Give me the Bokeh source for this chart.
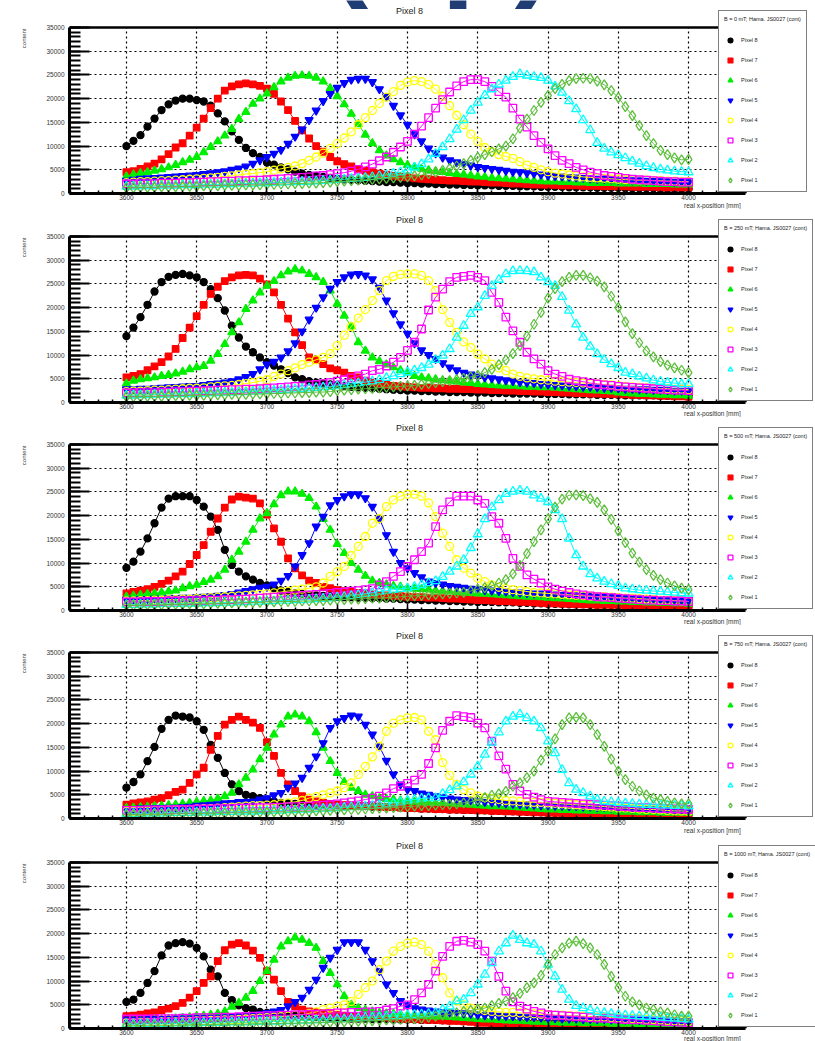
import math
from bokeh.plotting import figure
from bokeh.models import Range1d, Legend, LegendItem, Label, Title, SingleIntervalTicker
from bokeh.layouts import column
from bokeh.embed import file_html
from bokeh.resources import INLINE

# x positions of the scan points [mm]
X_MM = list(range(3600, 4001, 5))
PIXELS = ["Pixel 8", "Pixel 7", "Pixel 6", "Pixel 5", "Pixel 4", "Pixel 3", "Pixel 2", "Pixel 1"]
FIELDS = ["0", "250", "500", "750", "1000"]
UNIT = 100  # values below are given in units of 100 counts

# ---------------- B = 0 mT ----------------
B0_P8 = [100,111,123,141,158,176,188,196,200,200,197,194,185,169,152,131,113,96,85,77,
         65,61,55,51,46,42,39,37,35,33,31,30,29,28,27,26,25,24,24,23,
         22,22,21,21,20,20,19,19,18,18,17,17,17,16,16,16,15,15,15,14,
         14,14,14,13,13,13,13,12,12,12,12,11,11,11,11,11,10,10,10,10,10]
B0_P7 = [45,47,52,57,63,72,83,97,106,122,139,158,180,200,217,226,230,232,230,227,
         221,210,194,176,153,133,116,100,88,77,68,62,57,52,48,45,42,40,37,35,
         34,32,31,30,29,28,27,27,26,25,25,24,23,23,22,21,21,20,19,19,
         18,18,17,17,17,16,16,16,15,15,15,15,14,14,14,14,13,13,13,13,13]
B0_P6 = [36,40,43,45,48,51,55,60,66,71,77,87,98,110,122,136,157,172,189,200,
         211,224,236,244,248,249,248,244,236,222,205,188,168,146,124,106,91,80,72,66,
         60,56,52,49,47,45,43,41,40,38,36,35,33,32,31,30,29,28,27,26,
         25,25,24,24,23,23,22,22,22,22,21,21,21,21,20,20,20,20,19,19,19]
B0_P5 = [27,29,31,32,33,34,35,36,37,38,39,41,43,45,47,50,53,57,63,70,
         77,84,92,105,120,135,155,175,195,210,223,233,240,242,242,235,220,205,185,165,
         145,125,110,95,85,76,70,66,62,59,56,54,52,50,48,46,45,43,42,40,
         38,37,36,35,34,33,32,31,31,30,29,29,28,28,27,27,26,26,25,25,24]
B0_P4 = [23,24,25,25,26,27,27,28,29,30,31,32,33,34,36,37,39,41,42,44,
         46,49,52,55,58,63,70,77,85,95,105,117,130,145,160,175,190,203,215,228,
         235,238,236,230,220,205,185,165,145,125,110,97,88,82,78,74,67,60,55,50,
         46,43,41,39,37,35,34,33,32,31,30,29,29,28,28,27,27,26,26,25,25]
B0_P3 = [20,20,21,21,21,22,22,22,23,23,24,24,25,25,26,26,27,27,28,28,
         29,30,31,32,33,34,35,37,38,40,42,44,47,51,56,62,69,77,87,98,
         110,125,142,160,180,198,214,227,236,240,240,236,226,215,203,180,157,140,122,108,
         94,80,70,63,55,50,45,42,38,36,34,32,30,29,28,27,26,25,25,24,24]
B0_P2 = [15,15,16,16,16,17,17,17,18,18,18,19,19,19,20,20,21,21,21,22,
         22,23,23,24,24,25,25,26,27,28,29,30,31,32,33,35,37,39,42,45,
         49,55,62,72,84,98,115,135,155,175,192,207,220,230,238,246,252,249,246,244,
         238,226,213,195,178,155,134,107,95,87,81,75,68,63,58,54,51,49,47,46,45]
B0_P1 = [12,12,13,13,13,14,14,14,15,15,15,16,16,16,17,17,17,18,18,18,
         19,19,20,20,21,21,22,22,23,24,25,26,27,28,29,30,31,32,33,34,
         35,37,39,42,45,49,53,58,63,70,76,82,88,94,100,115,138,157,175,192,
         207,221,230,238,242,243,242,237,229,217,202,183,164,143,122,105,91,82,75,71,72]

# ---------------- B = 250 mT ----------------
B250_P8 = [140,158,180,206,234,254,265,269,271,268,264,254,239,220,194,162,137,118,106,95,
           85,78,70,62,53,49,45,42,40,38,37,35,33,32,31,30,29,28,27,26,
           25,25,24,24,23,23,22,22,22,21,21,21,20,20,20,19,19,19,19,18,
           18,18,18,17,17,17,17,16,16,16,16,15,15,15,15,15,14,14,14,14,14]
B250_P7 = [53,56,60,68,76,85,97,113,136,158,182,206,229,244,256,264,268,269,268,261,
           249,232,206,177,148,121,95,90,81,72,68,63,56,53,46,42,39,37,35,34,
           33,32,31,31,30,30,29,29,28,28,27,27,26,26,25,25,24,24,23,23,
           22,22,21,21,20,20,19,19,18,18,17,17,16,16,15,15,14,14,13,13,12]
B250_P6 = [40,46,49,51,53,56,58,61,65,70,74,77,88,102,123,148,169,197,215,232,
           246,256,268,276,281,278,271,264,254,236,208,183,160,127,109,95,87,80,74,68,
           63,56,53,51,49,47,46,44,42,41,39,38,37,36,35,35,34,33,33,32,
           32,31,30,29,28,27,26,25,24,23,21,20,19,18,18,17,16,16,15,15,14]
B250_P5 = [28,28,29,29,30,31,32,33,34,35,35,37,39,40,42,45,49,54,60,70,
           80,86,95,108,125,150,175,200,222,240,254,264,270,271,268,260,242,215,188,165,
           145,125,110,100,92,83,74,68,63,59,55,53,51,49,47,45,43,42,41,39,
           38,37,36,35,34,33,33,32,31,31,30,29,29,28,28,27,27,26,25,25,24]
B250_P4 = [23,24,24,25,26,26,27,28,29,30,30,31,33,34,35,36,38,40,42,45,
           48,55,60,67,73,80,85,90,95,103,120,142,160,178,196,215,236,257,266,270,
           271,271,268,257,236,196,169,148,128,116,102,92,81,73,67,60,55,52,50,48,
           47,45,44,43,42,41,40,39,38,37,35,34,33,32,31,30,29,29,28,28,27]
B250_P3 = [20,20,21,21,21,22,22,23,23,24,24,25,25,26,26,27,27,28,28,29,
           30,31,32,33,34,35,37,38,40,42,45,48,52,56,60,67,70,77,85,95,
           110,127,155,195,222,239,255,264,266,268,264,257,232,211,180,151,127,106,92,81,
           67,60,55,49,46,44,41,39,37,36,34,33,32,31,30,29,28,27,26,26,25]
B250_P2 = [15,15,16,16,17,17,17,18,18,18,19,19,20,20,21,21,22,22,23,24,
           25,25,26,27,28,29,30,31,32,33,35,37,39,41,43,45,48,52,56,60,
           64,68,73,80,90,99,113,137,162,187,201,225,246,259,271,277,278,277,275,264,
           254,246,223,194,165,137,118,102,90,81,73,63,60,55,51,47,44,42,41,39,39]
B250_P1 = [12,12,12,13,13,13,14,14,14,15,15,15,16,16,16,17,17,17,18,18,
           18,19,19,20,20,21,21,22,22,23,25,26,27,28,29,30,31,32,33,34,
           35,36,38,40,42,44,46,48,51,54,57,63,70,80,90,103,120,140,165,190,
           220,240,255,264,268,268,263,256,244,224,200,170,145,126,109,96,86,79,73,68,63]

# ---------------- B = 500 mT ----------------
B500_P8 = [90,103,124,152,184,217,236,241,241,241,233,219,198,170,128,96,82,72,65,58,
           53,47,42,39,36,35,33,32,31,30,29,28,28,27,27,26,26,25,25,24,
           23,23,22,22,21,21,20,20,19,19,18,18,18,17,17,17,16,16,15,15,
           14,14,14,13,13,13,12,12,12,12,11,11,11,11,10,10,10,10,9,9,9]
B500_P7 = [36,39,42,45,50,56,63,72,82,98,117,138,166,194,217,234,240,238,236,226,
           202,173,145,110,89,74,63,58,50,47,43,41,39,37,35,34,33,32,31,30,
           29,28,28,27,27,26,25,25,24,23,22,22,21,20,20,19,18,18,17,16,
           15,15,14,14,13,13,13,12,12,12,12,11,11,10,10,10,9,9,9,8,8]
B500_P6 = [29,31,33,35,36,38,40,42,47,51,54,60,65,72,86,107,124,145,170,194,
           205,224,243,251,251,246,237,219,193,170,140,121,100,86,73,63,58,55,52,50,
           47,46,45,44,42,41,40,39,38,37,36,35,34,33,32,31,30,29,29,28,
           27,26,25,24,23,22,21,21,20,20,19,19,18,18,17,17,16,16,15,15,14]
B500_P5 = [23,23,24,24,25,25,26,26,27,27,28,29,30,31,33,35,38,41,45,48,
           50,55,63,73,93,117,142,177,198,222,233,241,245,245,237,219,194,159,124,100,
           89,79,70,61,58,55,52,50,48,46,45,43,42,41,40,39,38,37,36,36,
           35,34,33,33,32,32,31,31,30,30,28,27,27,26,26,25,24,24,23,23,22]
B500_P4 = [20,20,21,21,22,22,23,23,24,24,25,26,27,28,29,30,31,32,33,34,
           35,37,39,41,43,45,47,50,58,72,82,93,116,135,156,184,194,219,233,241,
           245,245,241,227,198,163,135,107,89,79,68,61,54,49,46,44,42,40,38,37,
           36,35,34,33,32,31,30,29,29,28,27,26,26,25,24,23,22,22,21,20,19]
B500_P3 = [18,18,18,19,19,19,20,20,20,21,21,21,22,22,23,23,24,24,25,26,
           27,28,29,30,31,32,33,34,35,36,38,39,41,42,44,46,54,61,72,82,
           93,107,124,142,177,212,229,241,241,241,233,226,198,184,152,110,93,75,66,58,
           50,45,41,38,35,33,31,29,28,27,26,25,24,23,22,22,21,21,20,20,19]
B500_P2 = [12,12,13,13,13,14,14,14,15,15,15,16,16,16,17,17,18,18,19,19,
           20,20,21,21,22,22,23,24,25,26,28,29,31,33,35,37,40,42,44,46,
           47,50,54,58,62,71,82,93,107,132,161,193,218,233,246,251,253,251,243,236,
           229,212,193,152,117,93,77,68,61,56,52,47,45,43,42,41,40,39,38,37,36]
B500_P1 = [11,11,11,12,12,12,13,13,13,14,14,14,15,15,15,16,16,17,17,17,
           18,18,19,19,19,20,20,21,21,22,23,23,24,24,25,26,26,27,28,29,
           30,31,32,33,34,35,36,37,38,41,45,48,52,58,65,77,95,120,145,170,
           193,218,235,243,244,242,236,228,212,192,168,143,121,102,86,74,65,58,52,47,44]

# ---------------- B = 750 mT ----------------
B750_P8 = [65,77,93,121,151,189,208,217,215,213,205,187,155,128,96,72,58,50,47,43,
           40,36,33,32,31,30,30,29,29,28,28,27,27,26,26,25,25,24,24,23,
           22,22,21,21,20,20,19,19,18,18,17,17,16,16,16,15,15,14,14,13,
           12,12,12,11,11,11,11,10,10,10,10,10,9,9,9,9,9,8,8,8,8]
B750_P7 = [29,32,34,36,40,43,49,56,61,75,93,107,145,174,198,208,215,208,202,191,
           161,132,96,72,58,47,40,36,33,31,29,28,28,27,26,26,25,24,24,23,
           22,22,21,21,20,20,19,19,18,18,17,17,16,16,15,15,14,14,13,13,
           12,12,11,11,11,10,10,10,9,9,9,9,8,8,8,8,7,7,7,7,7]
B750_P6 = [22,23,24,25,26,27,28,29,31,33,35,37,38,42,47,54,72,86,103,125,
           149,177,198,215,219,215,205,182,149,121,96,77,65,58,50,47,43,41,40,38,
           36,35,35,34,33,33,32,31,30,29,28,27,26,26,25,24,23,22,21,20,
           19,19,18,18,17,17,16,16,15,15,14,14,14,13,13,13,12,12,12,12,12]
B750_P5 = [20,20,21,21,22,22,23,23,24,25,27,28,29,30,32,33,35,35,36,40,
           43,49,54,65,74,86,107,131,159,191,205,212,217,215,198,177,152,122,93,72,
           61,58,53,50,47,45,42,40,39,38,36,35,34,33,32,31,30,30,29,28,
           28,27,27,26,26,25,25,24,24,23,22,22,21,21,21,20,20,20,19,19,19]
B750_P4 = [15,15,16,16,17,17,18,18,19,19,20,21,21,22,23,24,25,26,27,27,
           28,29,31,33,35,38,43,46,50,54,58,65,75,93,110,130,152,184,201,208,
           212,213,208,184,166,118,91,72,61,54,47,44,42,40,38,37,36,35,34,34,
           33,32,31,30,29,28,27,26,25,24,22,22,21,20,19,19,18,17,16,16,15]
B750_P3 = [17,17,17,18,18,18,18,19,19,19,20,20,20,21,21,21,22,22,23,23,
           23,24,24,25,25,26,26,27,28,29,31,33,35,37,40,43,47,54,63,68,
           74,81,93,116,149,186,205,217,215,213,201,191,163,132,104,72,58,51,45,40,
           36,35,34,33,32,31,30,29,28,27,26,25,24,23,23,22,21,21,20,20,19]
B750_P2 = [10,10,10,11,11,11,12,12,12,12,13,13,13,14,14,14,15,15,15,16,
           16,17,17,18,18,19,19,20,21,21,22,23,24,25,26,27,28,30,32,34,
           38,40,42,43,43,52,60,68,77,93,110,135,160,182,205,215,220,212,205,191,
           163,138,103,75,61,54,47,40,36,35,33,32,31,30,29,29,28,28,27,27,26]
B750_P1 = [8,8,8,9,9,9,9,10,10,10,10,11,11,11,11,12,12,12,13,13,
           13,14,14,14,15,15,15,16,16,17,18,18,19,19,20,21,22,22,23,24,
           25,26,27,27,28,29,30,31,33,35,40,44,49,52,57,68,75,86,100,123,
           142,168,198,212,213,212,198,177,152,125,100,82,68,58,50,43,40,36,33,31,31]

# ---------------- B = 1000 mT ----------------
B1000_P8 = [56,61,75,96,121,154,175,180,182,179,170,152,124,110,75,60,49,43,40,35,
            33,33,29,28,27,26,25,24,24,23,22,22,21,21,21,20,20,20,19,19,
            19,19,18,18,18,17,17,17,16,16,15,15,15,14,14,14,13,13,13,12,
            12,12,11,11,11,11,10,10,10,10,10,9,9,9,9,9,8,8,8,8,8]
B1000_P7 = [26,27,29,32,34,39,42,47,54,65,79,96,110,142,165,177,180,175,164,149,
            121,103,79,56,47,40,36,35,33,30,28,27,26,26,25,25,24,23,22,21,
            20,20,19,18,18,17,16,16,15,14,12,12,11,11,10,10,10,9,9,9,
            8,8,8,8,7,7,7,7,7,7,7,6,6,6,6,6,6,5,5,5,5]
B1000_P6 = [15,16,16,17,19,19,20,21,22,24,26,27,29,31,36,46,54,65,79,100,
            121,145,173,184,192,187,180,170,142,117,93,68,50,43,39,36,33,32,31,30,
            28,27,27,26,25,25,24,23,22,21,20,19,19,18,17,16,16,15,14,14,
            13,13,12,12,12,11,11,11,11,10,10,10,10,9,9,9,9,8,8,8,8]
B1000_P5 = [19,19,19,20,20,20,20,21,21,21,22,22,22,23,24,25,26,27,28,30,
            33,36,39,47,56,65,82,103,128,149,166,182,182,182,166,142,121,93,75,58,
            49,43,40,38,36,35,34,33,32,31,29,28,28,27,26,26,25,24,24,23,
            22,22,21,21,21,20,20,20,20,19,19,19,19,18,18,18,17,17,16,16,15]
B1000_P4 = [12,12,13,13,13,14,14,14,15,15,16,16,17,17,18,18,19,20,21,22,
            23,24,25,26,28,29,32,35,40,43,47,50,57,72,86,100,124,142,163,173,
            180,182,177,163,135,107,75,58,50,43,40,38,36,35,34,34,33,32,31,30,
            29,28,28,27,26,26,25,24,24,23,22,21,21,20,19,19,18,17,16,16,15]
B1000_P3 = [20,20,20,20,21,21,21,21,22,22,23,23,23,24,24,24,25,25,26,26,
            27,27,28,28,29,29,30,30,31,32,33,33,34,34,35,35,36,39,42,47,
            50,61,75,93,121,152,173,184,186,182,177,163,142,110,79,56,47,41,36,33,
            29,28,27,26,25,24,23,22,22,21,20,19,18,18,17,16,15,14,14,13,12]
B1000_P2 = [9,9,9,10,10,10,10,11,11,11,11,12,12,12,12,13,13,13,14,14,
            14,15,15,16,16,17,17,18,18,19,20,20,21,22,23,23,24,25,26,27,
            28,29,30,31,33,40,47,58,61,75,93,114,138,163,180,196,187,180,177,163,
            135,110,82,61,48,43,39,35,33,31,29,28,27,26,25,24,23,22,21,20,19]
B1000_P1 = [6,6,6,7,7,7,7,7,8,8,8,8,8,9,9,9,9,9,10,10,
            10,10,11,11,11,12,12,12,13,13,14,14,15,15,16,16,17,18,18,19,
            20,21,22,24,26,28,30,33,36,38,41,43,48,53,58,65,74,86,96,112,
            135,156,170,180,184,179,170,156,135,110,86,68,56,50,43,40,35,33,29,26,26]

DATA = {
    "0":    [B0_P8, B0_P7, B0_P6, B0_P5, B0_P4, B0_P3, B0_P2, B0_P1],
    "250":  [B250_P8, B250_P7, B250_P6, B250_P5, B250_P4, B250_P3, B250_P2, B250_P1],
    "500":  [B500_P8, B500_P7, B500_P6, B500_P5, B500_P4, B500_P3, B500_P2, B500_P1],
    "750":  [B750_P8, B750_P7, B750_P6, B750_P5, B750_P4, B750_P3, B750_P2, B750_P1],
    "1000": [B1000_P8, B1000_P7, B1000_P6, B1000_P5, B1000_P4, B1000_P3, B1000_P2, B1000_P1],
}
for f, series in DATA.items():
    for k, s in enumerate(series):
        if len(s) != len(X_MM):
            raise ValueError(f"B={f} {PIXELS[k]} has {len(s)} points")

STYLES = [
    dict(marker="circle", color="#000000", fill=True, size=7),
    dict(marker="square", color="#ff0000", fill=True, size=6.5),
    dict(marker="triangle", color="#00ee00", fill=True, size=8),
    dict(marker="inverted_triangle", color="#0000ff", fill=True, size=8),
    dict(marker="circle", color="#ffff00", fill=False, size=8),
    dict(marker="square", color="#ff00ff", fill=False, size=7.5),
    dict(marker="triangle", color="#00ffff", fill=False, size=9),
    dict(marker="diamond", color="#5cbf3c", fill=False, size=10),
]

FONT = "Liberation Sans"
HEIGHTS = [209, 208, 208, 210, 206]
TOP = 27          # px from panel top to the y = 35000 line
FRAME_H = 166     # px between y = 0 and y = 35000
LEFT = 69         # px from the left edge to the y axis
AX_W = 676        # px between x = 3559.5 and x = 4040.5
X_LO, X_HI = 3559.5, 4040.5
Y_TOP = 35000
PX_PER_MM = AX_W / (X_HI - X_LO)
X_END = X_LO + (815 - LEFT) / PX_PER_MM
Y_END = Y_TOP * (TOP + FRAME_H) / FRAME_H
XLAB_BAND = 9     # px taken by the x tick labels
XTITLE_H = 10     # px taken by the x title without standoff


def make_panel(idx, field, h):
    bottom = h - TOP - FRAME_H
    p = figure(width=815, height=h, output_backend="svg", toolbar_location=None,
               x_range=Range1d(X_LO, X_END), y_range=Range1d(0, Y_END),
               min_border_left=LEFT, min_border_right=0, min_border_top=0,
               min_border_bottom=bottom)
    p.background_fill_color = "white"
    p.border_fill_color = "white"
    p.outline_line_color = None

    yax = p.yaxis[0]
    yax.bounds = (0, Y_TOP)
    yax.ticker = SingleIntervalTicker(interval=5000, num_minor_ticks=5)
    yax.major_tick_in = 20
    yax.major_tick_out = 0
    yax.minor_tick_in = 11
    yax.minor_tick_out = 0
    yax.major_tick_line_width = 2
    yax.minor_tick_line_width = 2
    yax.axis_line_width = 3
    yax.major_label_text_font = FONT
    yax.major_label_text_font_size = "6.5px"
    yax.major_label_text_color = "#333333"
    yax.major_label_standoff = 5

    xax = p.xaxis[0]
    xax.bounds = (X_LO, X_HI)
    xax.ticker = SingleIntervalTicker(interval=50, num_minor_ticks=5)
    xax.major_tick_in = 6
    xax.major_tick_out = 0
    xax.minor_tick_in = 3
    xax.minor_tick_out = 0
    xax.major_tick_line_width = 1.5
    xax.minor_tick_line_width = 1.5
    xax.axis_line_width = 3
    xax.major_label_text_font = FONT
    xax.major_label_text_font_size = "6.5px"
    xax.major_label_text_color = "#333333"
    xax.major_label_standoff = 1

    p.xgrid[0].cross_bounds = (0, Y_TOP)
    p.ygrid[0].cross_bounds = (X_LO, X_HI)
    for g in (p.xgrid[0], p.ygrid[0]):
        g.grid_line_color = "black"
        g.grid_line_dash = "2 3"
        g.grid_line_width = 1.2

    # top and right edges of the frame box
    p.line([X_LO, X_HI, X_HI], [Y_TOP, Y_TOP, 0], line_color="black", line_width=2.5)

    scat = []
    for k, vals in enumerate(DATA[field]):
        st = STYLES[k]
        ys = [v * UNIT for v in vals]
        p.line(X_MM, ys, line_color=st["color"], line_width=1)
        r = p.scatter(X_MM, ys, marker=st["marker"], size=st["size"],
                      line_color=st["color"], line_width=1.3,
                      fill_color=st["color"] if st["fill"] else None)
        scat.append(r)

    items = [LegendItem(label=PIXELS[k], renderers=[scat[k]]) for k in range(8)]
    leg = Legend(items=items, location=(649, 1),
                 title=f"B = {field} mT; Hama. JS0027 (cont)")
    leg.title_text_font = FONT
    leg.title_text_font_size = "5.5px"
    leg.title_text_font_style = "normal"
    leg.title_text_color = "#222222"
    leg.title_standoff = 12
    leg.label_text_font = FONT
    leg.label_text_font_size = "5.5px"
    leg.label_text_color = "#222222"
    leg.glyph_width = 12
    leg.glyph_height = 12
    leg.label_height = 12
    leg.label_standoff = 5
    leg.spacing = 8
    leg.padding = 5
    leg.margin = 0
    leg.border_line_color = "black"
    leg.border_line_width = 1.5
    leg.background_fill_color = "white"
    leg.background_fill_alpha = 1
    p.add_layout(leg)

    FH = TOP + FRAME_H
    if idx == 0:
        p.add_layout(Label(x=441 - LEFT, y=FH - 8, x_units="screen", y_units="screen",
                           text="(up)", text_align="center", text_baseline="bottom",
                           text_font=FONT, text_font_size="120px", text_font_style="bold",
                           text_color="#1f3d74"))
    p.add_layout(Label(x=340, y=FH - 10, x_units="screen", y_units="screen",
                       text="Pixel 8", text_align="center", text_baseline="middle",
                       text_font=FONT, text_font_size="9px", text_color="#222222"))

    p.add_layout(Title(text="content", align="right", offset=28, standoff=34,
                       text_font=FONT, text_font_size="6px", text_font_style="normal",
                       text_color="#444444"), "left")
    p.add_layout(Title(text="real x-position  [mm]", align="right", offset=73,
                       standoff=bottom - XLAB_BAND - XTITLE_H - 3,
                       text_font=FONT, text_font_size="6.5px", text_font_style="normal",
                       text_color="#333333"), "below")
    return p


panels = [make_panel(i, f, h) for i, (f, h) in enumerate(zip(FIELDS, HEIGHTS))]
layout = column(*panels, spacing=0)

with open("out.html", "w") as fh:
    fh.write(file_html(layout, INLINE))
